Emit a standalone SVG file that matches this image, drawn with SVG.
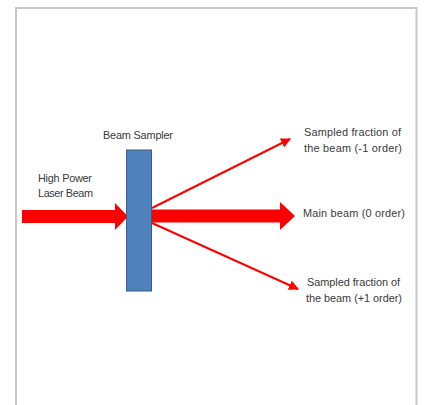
<svg xmlns="http://www.w3.org/2000/svg" width="424" height="405" viewBox="0 0 424 405">
<defs>
<style>
.t{font-family:"Liberation Sans",Arial,sans-serif;font-size:10.9px;fill:#3a3a3a}
.thin{stroke:#ff0000;stroke-width:2;fill:none}
</style>
<marker id="ah" viewBox="0 0 10 10" refX="9" refY="5" markerWidth="5" markerHeight="5" orient="auto" markerUnits="strokeWidth">
<path d="M0,0 L10,5 L0,10 Z" fill="#ff0000"/>
</marker>
</defs>
<rect x="0" y="0" width="424" height="405" fill="#ffffff"/>
<path d="M16,405 V8 H416.5 V405" fill="none" stroke="#c8c8c8" stroke-width="2"/>
<g id="connectors">
<path id="input-beam" d="M22,210 H115 V203 L128,216.5 L115,230 V223 H22 Z" fill="#ff0000"/>
<path id="main-beam" d="M152,209.5 H280 V202 L295,216 L280,230 V222.5 H152 Z" fill="#ff0000"/>
<line id="minus1" class="thin" x1="152" y1="208" x2="290" y2="139" marker-end="url(#ah)"/>
<line id="plus1" class="thin" x1="152" y1="223" x2="298" y2="289" marker-end="url(#ah)"/>
</g>
<g id="beam-sampler">
<rect x="126.5" y="150" width="25" height="141" fill="#4f81bd" stroke="#385d8a" stroke-width="1"/>
<text class="t" x="103" y="139" textLength="70">Beam Sampler</text>
</g>
<g id="laser-label">
<text class="t" x="38" y="181.5" textLength="54">High Power</text>
<text class="t" x="38" y="196.5" textLength="55">Laser Beam</text>
</g>
<g id="minus1-label">
<text class="t" x="304" y="135.5" textLength="97">Sampled fraction of</text>
<text class="t" x="304" y="151.5" textLength="98">the beam (-1 order)</text>
</g>
<g id="main-label">
<text class="t" x="303" y="216.5" textLength="102">Main beam (0 order)</text>
</g>
<g id="plus1-label">
<text class="t" x="307" y="285.5" textLength="93">Sampled fraction of</text>
<text class="t" x="306" y="301.5" textLength="96">the beam (+1 order)</text>
</g>
</svg>
